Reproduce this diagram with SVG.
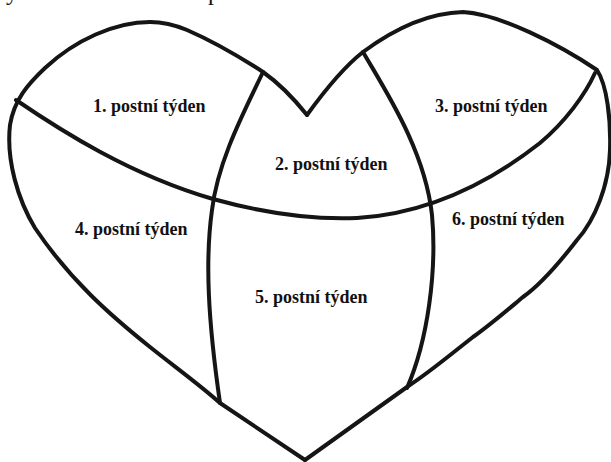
<svg xmlns="http://www.w3.org/2000/svg" width="611" height="462" viewBox="0 0 611 462">
<style>
.ln{fill:none;stroke:#151515;stroke-width:4;stroke-linecap:round;stroke-linejoin:round}
.lb{font-family:"Liberation Serif","Times New Roman",serif;font-weight:700;font-size:18px;fill:#111}
.cut{font-family:"Liberation Serif","Times New Roman",serif;font-size:24px;fill:#111}
</style>
<rect width="611" height="462" fill="#fff"/>
<text class="cut" x="6" y="0">y</text>
<text class="cut" x="208" y="0">p</text>
<g id="outline">
<path class="ln" d="M307,115 C295,100 280,84 263,72 C240,57 210,40 187,30 C175,25 162,22 150,22 C115,22 75,40 45,68 C28,84 14,100 10,125 C6,160 18,200 35,228 C70,280 110,315 150,347 C175,367 200,385 220,403 L305,460"/>
<path class="ln" d="M307,115 C320,97 340,70 363,52 C390,32 425,13 463,12 C500,14 560,45 597,70 C607,85 611,120 610,150 C609,185 595,220 577,240 C560,262 540,285 523,297 C505,312 490,325 473,337 C450,355 430,372 407,387 L305,460"/>
</g>
<g id="dividers">
<path class="ln" d="M16,100 C60,130 130,175 213,199 C260,212 310,220 357,218 C420,214 480,190 540,143 C565,122 585,95 595,73"/>
<path class="ln" d="M263,72 C245,110 218,160 212,210 C205,260 208,320 220,403"/>
<path class="ln" d="M363,52 C385,90 425,150 432,215 C437,270 428,340 407,388"/>
</g>
<g id="labels">
<text class="lb" x="93" y="112">1. postní týden</text>
<text class="lb" x="275" y="170">2. postní týden</text>
<text class="lb" x="435" y="112">3. postní týden</text>
<text class="lb" x="75" y="235">4. postní týden</text>
<text class="lb" x="255" y="303">5. postní týden</text>
<text class="lb" x="452" y="225">6. postní týden</text>
</g>
</svg>
